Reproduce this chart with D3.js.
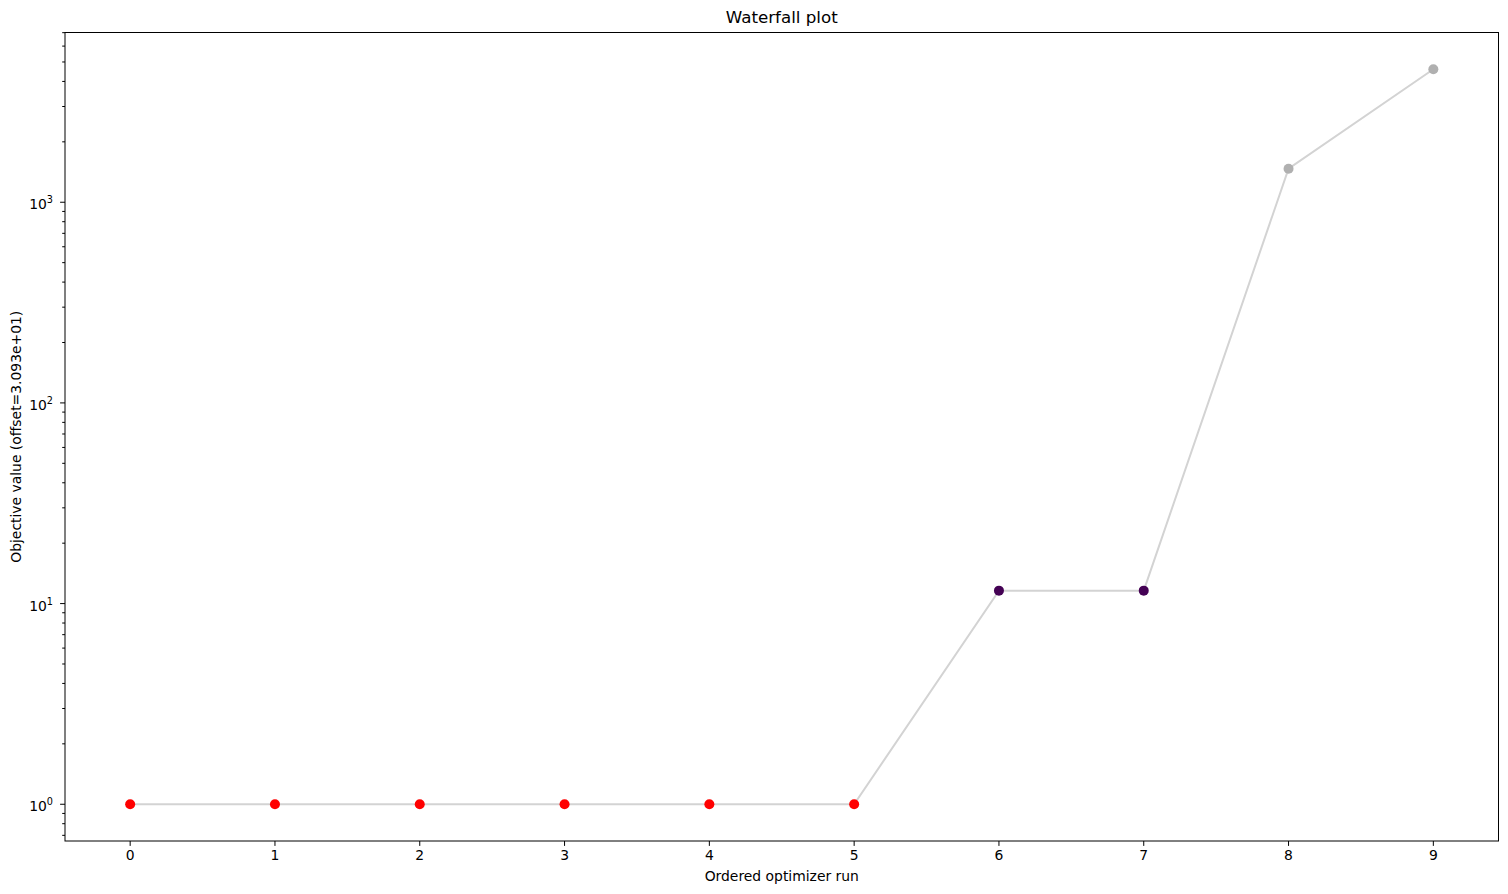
<!DOCTYPE html>
<html>
<head>
<meta charset="utf-8">
<script src="https://cdn.jsdelivr.net/npm/d3@7"></script>
<style>
  body { margin: 0; background: #fff; }
  text { font-family: "DejaVu Sans", sans-serif; fill: #000; }
</style>
</head>
<body>
<script>
// ordered optimizer runs and their offset objective values
var runs = [0, 1, 2, 3, 4, 5, 6, 7, 8, 9];
var values = [1, 1, 1, 1, 1, 1, 11.6, 11.6, 1470, 4600];
var colors = ["#ff0000", "#ff0000", "#ff0000", "#ff0000", "#ff0000", "#ff0000",
              "#440154", "#440154", "#b0b0b0", "#b0b0b0"];
var yMajor = [0, 1, 2, 3]; // exponents of 10

var width = 1508, height = 894;
var margin = { left: 65, right: 9.5, top: 32.5, bottom: 53 };

var svg = d3.select("body").append("svg")
    .attr("width", width)
    .attr("height", height);

var x = d3.scaleLinear()
    .domain([-0.45, 9.45])
    .range([margin.left, width - margin.right]);

// matplotlib style 5% margin in log space
var lmin = Math.log10(d3.min(values)), lmax = Math.log10(d3.max(values));
var pad = (lmax - lmin) * 0.05;
var y = d3.scaleLog()
    .domain([Math.pow(10, lmin - pad), Math.pow(10, lmax + pad)])
    .range([height - margin.bottom, margin.top]);

var x0 = margin.left, x1 = width - margin.right;
var y0 = height - margin.bottom, y1 = margin.top;

// line
var line = d3.line()
    .x(function(d, i) { return x(runs[i]); })
    .y(function(d) { return y(d); });

svg.append("path")
    .datum(values)
    .attr("d", line)
    .attr("fill", "none")
    .attr("stroke", "#d3d3d3")
    .attr("stroke-width", 2);

// points
svg.append("g").selectAll("circle")
    .data(values).enter()
    .append("circle")
    .attr("cx", function(d, i) { return x(runs[i]); })
    .attr("cy", function(d) { return y(d); })
    .attr("r", 5)
    .attr("fill", function(d, i) { return colors[i]; });

// frame
svg.append("rect")
    .attr("x", x0).attr("y", y1)
    .attr("width", x1 - x0).attr("height", y0 - y1)
    .attr("fill", "none").attr("stroke", "#000").attr("stroke-width", 1);

// x ticks
var xt = svg.append("g");
runs.forEach(function(r) {
    xt.append("line")
        .attr("x1", x(r)).attr("x2", x(r))
        .attr("y1", y0).attr("y2", y0 + 4.9)
        .attr("stroke", "#000");
    xt.append("text")
        .attr("x", x(r)).attr("y", y0 + 19)
        .attr("text-anchor", "middle")
        .attr("font-size", "13.9px")
        .text(r);
});

// y minor ticks
var dom = y.domain();
var yt = svg.append("g");
for (var e = -1; e <= 4; e++) {
    for (var m = 2; m <= 9; m++) {
        var v = m * Math.pow(10, e);
        if (v < dom[0] || v > dom[1]) continue;
        yt.append("line")
            .attr("x1", x0 - 2.8).attr("x2", x0)
            .attr("y1", y(v)).attr("y2", y(v))
            .attr("stroke", "#000");
    }
}
// y major ticks
yMajor.forEach(function(p) {
    var v = Math.pow(10, p);
    yt.append("line")
        .attr("x1", x0 - 4.9).attr("x2", x0)
        .attr("y1", y(v)).attr("y2", y(v))
        .attr("stroke", "#000");
    var t = yt.append("text")
        .attr("x", x0 - 12).attr("y", y(v) + 7)
        .attr("text-anchor", "end")
        .attr("font-size", "13.9px");
    t.append("tspan").text("10");
    t.append("tspan")
        .attr("font-size", "9.7px")
        .attr("dy", -6)
        .text(p);
});

// title and labels
svg.append("text")
    .attr("x", (x0 + x1) / 2).attr("y", 23)
    .attr("text-anchor", "middle")
    .attr("font-size", "16.7px")
    .text("Waterfall plot");

svg.append("text")
    .attr("x", (x0 + x1) / 2).attr("y", 881)
    .attr("text-anchor", "middle")
    .attr("font-size", "13.9px")
    .text("Ordered optimizer run");

svg.append("text")
    .attr("transform", "translate(21," + ((y0 + y1) / 2) + ") rotate(-90)")
    .attr("text-anchor", "middle")
    .attr("font-size", "13.9px")
    .text("Objective value (offset=3.093e+01)");
</script>
</body>
</html>
